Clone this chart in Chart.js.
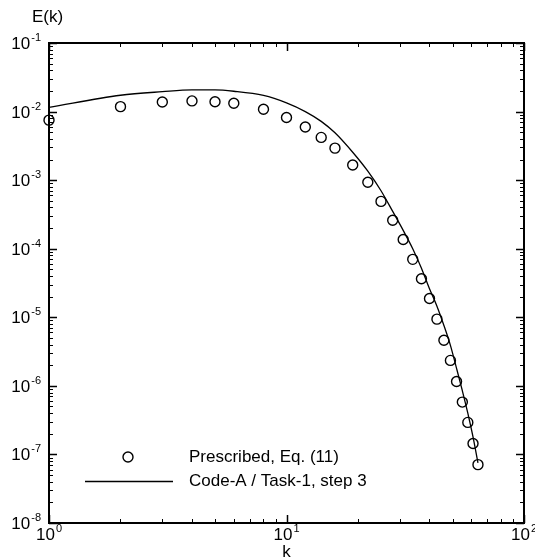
<!DOCTYPE html>
<html>
<head>
<meta charset="utf-8">
<script src="https://cdn.jsdelivr.net/npm/chart.js@4/dist/chart.umd.min.js"></script>
<style>
body { margin: 0; background: #fff; }
#wrap { width: 535px; height: 558px; position: relative; }
</style>
</head>
<body>
<div id="wrap"><canvas id="myChart"></canvas></div>
<script>
// values
const kValues = [1, 2, 3, 4, 5, 6, 8, 10, 12, 14, 16, 19, 22, 25, 28, 31, 34, 37, 40, 43, 46, 49, 52, 55, 58, 61, 64];
const prescribed = [7.5e-3, 1.18e-2, 1.38e-2, 1.43e-2, 1.39e-2, 1.32e-2, 1.08e-2, 8.2e-3, 5.95e-3, 4.2e-3, 2.93e-3,
  1.66e-3, 9.3e-4, 4.9e-4, 2.6e-4, 1.36e-4, 7.0e-5, 3.65e-5, 1.88e-5, 9.4e-6, 4.63e-6, 2.35e-6, 1.16e-6,
  5.8e-7, 2.93e-7, 1.44e-7, 7.1e-8];
const codeA = [1.15e-2, 1.73e-2, 1.95e-2, 2.07e-2, 2.07e-2, 1.98e-2, 1.72e-2, 1.34e-2, 1.0e-2, 7.2e-3, 4.9e-3,
  2.55e-3, 1.35e-3, 7.0e-4, 3.5e-4, 1.85e-4, 1.0e-4, 5.2e-5, 2.6e-5, 1.45e-5, 7.6e-6, 3.9e-6, 1.8e-6,
  8.5e-7, 4.0e-7, 1.8e-7, 7.5e-8];
const xDecades = [0, 1, 2];
const yDecades = [-8, -7, -6, -5, -4, -3, -2, -1];
const seriesLabels = ['Prescribed, Eq. (11)', 'Code-A / Task-1, step 3'];
const xTitle = 'k';
const yTitle = 'E(k)';

const FONT = '"Liberation Sans", Arial, Helvetica, sans-serif';

function pow10Label(ctx, exp) {
  ctx.font = '17px ' + FONT;
  const w1 = ctx.measureText('10').width;
  ctx.font = '11px ' + FONT;
  const w2 = ctx.measureText(String(exp)).width;
  return { w1: w1, w2: w2, total: w1 + 1 + w2 };
}

function drawPow10(ctx, exp, left, base) {
  const m = pow10Label(ctx, exp);
  ctx.font = '17px ' + FONT;
  ctx.fillText('10', left, base);
  ctx.font = '11px ' + FONT;
  ctx.fillText(String(exp), left + m.w1 + 1, base - 8);
}

const framePlugin = {
  id: 'frame',
  afterDraw(chart) {
    const ctx = chart.ctx;
    const a = chart.chartArea;
    const x = chart.scales.x, y = chart.scales.y;
    ctx.save();
    ctx.strokeStyle = '#000';
    ctx.fillStyle = '#000';

    // tick marks, inward on all four sides
    const tick = (major, draw) => {
      ctx.lineWidth = major ? 1.5 : 1;
      ctx.beginPath();
      draw();
      ctx.stroke();
    };
    xDecades.forEach(e => {
      for (let m = 1; m < 10; m++) {
        const v = m * Math.pow(10, e);
        if (v > x.max) break;
        const px = Math.round(x.getPixelForValue(v)) + 0.5;
        const len = m === 1 ? 8 : 4;
        tick(m === 1, () => {
          ctx.moveTo(px, a.bottom); ctx.lineTo(px, a.bottom - len);
          ctx.moveTo(px, a.top); ctx.lineTo(px, a.top + len);
        });
      }
    });
    yDecades.forEach(e => {
      for (let m = 1; m < 10; m++) {
        const v = m * Math.pow(10, e);
        if (v > y.max * 1.0001) break;
        const py = Math.round(y.getPixelForValue(v)) + 0.5;
        const len = m === 1 ? 8 : 4;
        tick(m === 1, () => {
          ctx.moveTo(a.left, py); ctx.lineTo(a.left + len, py);
          ctx.moveTo(a.right, py); ctx.lineTo(a.right - len, py);
        });
      }
    });

    // frame
    ctx.lineWidth = 2;
    ctx.strokeRect(a.left, a.top, a.right - a.left, a.bottom - a.top);

    // tick labels
    ctx.textBaseline = 'alphabetic';
    ctx.textAlign = 'left';
    xDecades.forEach(e => {
      const px = x.getPixelForValue(Math.pow(10, e));
      const m = pow10Label(ctx, e);
      drawPow10(ctx, e, px - m.total / 2, a.bottom + 17);
    });
    yDecades.forEach(e => {
      const py = y.getPixelForValue(Math.pow(10, e));
      const m = pow10Label(ctx, e);
      drawPow10(ctx, e, a.left - 8 - m.total, py + 6);
    });

    // axis titles
    ctx.font = '17px ' + FONT;
    ctx.textAlign = 'left';
    ctx.fillText(yTitle, 32, 21.5);
    ctx.textAlign = 'center';
    ctx.fillText(xTitle, x.getPixelForValue(10), 557);

    // legend
    ctx.lineWidth = 1.4;
    ctx.beginPath();
    ctx.arc(128, 457, 5, 0, Math.PI * 2);
    ctx.stroke();
    ctx.lineWidth = 1.3;
    ctx.beginPath();
    ctx.moveTo(85, 481.5); ctx.lineTo(173, 481.5);
    ctx.stroke();
    ctx.textAlign = 'left';
    ctx.fillText(seriesLabels[0], 189, 462);
    ctx.fillText(seriesLabels[1], 189, 486);
    ctx.restore();
  }
};

const ctx = document.getElementById('myChart').getContext('2d');
const myChart = new Chart(ctx, {
  type: 'scatter',
  data: {
    datasets: [{
      label: seriesLabels[0],
      data: kValues.map((k, i) => ({ x: k, y: prescribed[i] })),
      pointStyle: 'circle',
      pointRadius: 5,
      pointBorderWidth: 1.4,
      pointBorderColor: '#000',
      pointBackgroundColor: 'rgba(0,0,0,0)',
      showLine: false,
      clip: false
    }, {
      label: seriesLabels[1],
      data: kValues.map((k, i) => ({ x: k, y: codeA[i] })),
      showLine: true,
      borderColor: '#000',
      borderWidth: 1.3,
      pointRadius: 0,
      cubicInterpolationMode: 'monotone',
      clip: false
    }]
  },
  options: {
    responsive: true,
    maintainAspectRatio: false,
    animation: false,
    events: [],
    layout: { padding: { left: 49, right: 11, top: 43, bottom: 35 } },
    plugins: { legend: { display: false }, tooltip: { enabled: false } },
    scales: {
      x: { type: 'logarithmic', min: 1, max: 100, display: false },
      y: { type: 'logarithmic', min: 1e-8, max: 1e-1, display: false }
    }
  },
  plugins: [framePlugin]
});
</script>
</body>
</html>
